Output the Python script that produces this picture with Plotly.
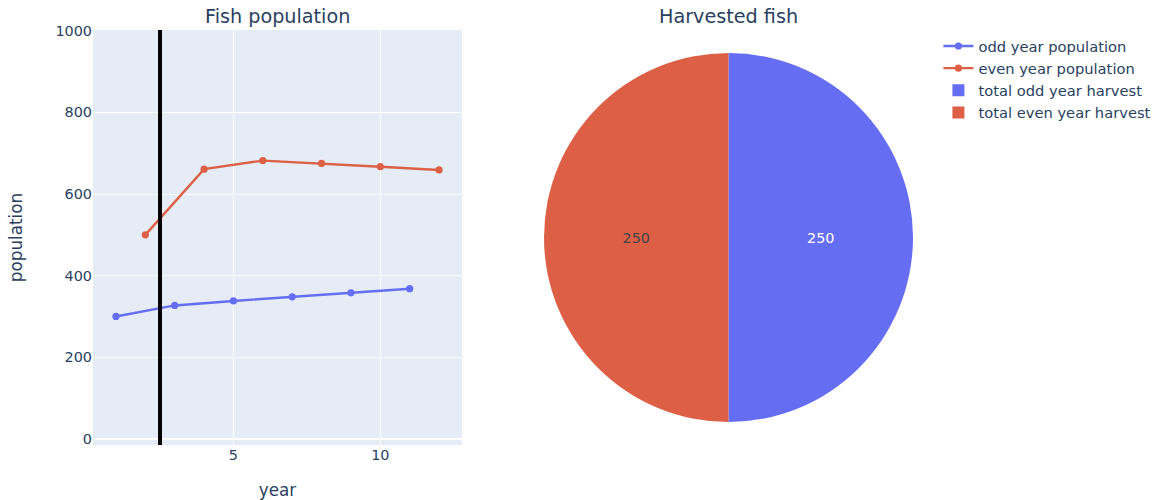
import plotly.graph_objects as go
from plotly.subplots import make_subplots

# Population by year (odd and even year classes)
odd_years = [1, 3, 5, 7, 9, 11]
odd_population = [300, 327, 338, 348, 358, 368]
even_years = [2, 4, 6, 8, 10, 12]
even_population = [500, 661, 682, 675, 667, 659]

# Current position marker on the year axis
current_year = 2.5

# Harvest totals
harvest_labels = ["total odd year harvest", "total even year harvest"]
harvest_values = [250, 250]

ODD_COLOR = "#656EF2"
EVEN_COLOR = "#DD6046"

fig = make_subplots(
    rows=1, cols=2,
    specs=[[{"type": "xy"}, {"type": "domain"}]],
    subplot_titles=("Fish population", "Harvested fish"),
)

fig.add_trace(go.Scatter(x=odd_years, y=odd_population, mode="lines+markers",
                         name="odd year population",
                         line=dict(width=2.4, color=ODD_COLOR),
                         marker=dict(size=7.2, color=ODD_COLOR)), row=1, col=1)
fig.add_trace(go.Scatter(x=even_years, y=even_population, mode="lines+markers",
                         name="even year population",
                         line=dict(width=2.4, color=EVEN_COLOR),
                         marker=dict(size=7.2, color=EVEN_COLOR)), row=1, col=1)
fig.add_trace(go.Pie(labels=harvest_labels, values=harvest_values,
                     textinfo="value", sort=False,
                     marker=dict(colors=[ODD_COLOR, EVEN_COLOR])), row=1, col=2)

fig.add_shape(type="line", x0=current_year, x1=current_year, y0=0, y1=1,
              xref="x", yref="y domain", line=dict(color="black", width=4))

fig.update_xaxes(title=dict(text="year", font_size=16.8, standoff=22),
                 automargin=False, row=1, col=1)
fig.update_yaxes(title=dict(text="population", font_size=16.8, standoff=28),
                 automargin=False, range=[-15, 1002], row=1, col=1)

# subplot titles
for ann in fig.layout.annotations:
    ann.font = dict(size=19.2)

fig.update_layout(
    width=1164, height=500,
    font=dict(family="DejaVu Sans", size=14.4, color="#2a3f5f"),
    legend=dict(x=1.031, y=1, font_size=14.7),
    margin=dict(l=93, r=251, t=30, b=55, autoexpand=False),
)

fig.write_html("out.html")
